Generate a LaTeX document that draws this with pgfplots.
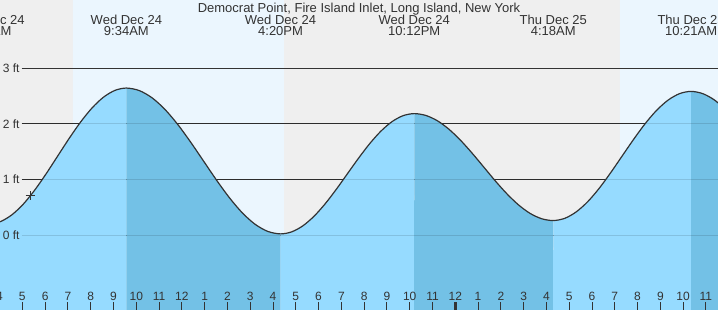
\documentclass[border=0pt]{standalone}
\usepackage{fontspec}
\setmainfont{Liberation Sans}
\usepackage{pgfplots}
\usepackage{pgfplotstable}
\pgfplotsset{compat=1.18}
\usepgfplotslibrary{fillbetween}
\definecolor{nightbg}{HTML}{EFEFEF}
\definecolor{daybg}{HTML}{EBF6FE}
\definecolor{rise}{HTML}{96DBFF}
\definecolor{fall}{HTML}{73C1E6}
\definecolor{ink}{HTML}{333333}
\newcommand\fa{\fontsize{12bp}{14bp}\selectfont}
\newcommand\fb{\fontsize{13bp}{15bp}\selectfont}

\pgfplotstableread{
t v
3.540 0.200
4.042 0.242
4.544 0.364
5.047 0.558
5.549 0.811
6.051 1.106
6.554 1.423
7.056 1.739
7.558 2.034
8.060 2.287
8.562 2.481
9.065 2.603
9.567 2.645
10.131 2.600
10.695 2.469
11.258 2.261
11.822 1.989
12.386 1.672
12.950 1.333
13.514 0.993
14.078 0.676
14.642 0.404
15.205 0.196
15.769 0.065
16.333 0.020
16.822 0.057
17.311 0.165
17.800 0.337
18.289 0.561
18.778 0.822
19.267 1.103
19.756 1.383
20.244 1.644
20.733 1.868
21.222 2.040
21.711 2.148
22.200 2.185
22.708 2.152
23.217 2.056
23.725 1.903
24.233 1.704
24.742 1.472
25.250 1.223
25.758 0.973
26.267 0.741
26.775 0.542
27.283 0.389
27.792 0.293
28.300 0.260
28.804 0.300
29.308 0.416
29.813 0.600
30.317 0.841
30.821 1.122
31.325 1.423
31.829 1.723
32.333 2.004
32.838 2.245
33.342 2.429
33.846 2.545
34.350 2.585
34.871 2.543
35.392 2.425
35.913 2.235
}\tide

\begin{document}
\begin{tikzpicture}
\begin{axis}[
  name=ax,
  set layers,
  axis on top,
  scale only axis, width=718bp, height=310bp,
  xmin=4.02, xmax=35.53, ymin=-1.35, ymax=4.23,
  axis line style={draw=none},
  xtick={5,...,35},
  xticklabels={5,6,7,8,9,10,11,12,1,2,3,4,5,6,7,8,9,10,11,12,1,2,3,4,5,6,7,8,9,10,11},
  xtick pos=bottom,
  tick align=inside,
  major tick length=8bp,
  xtick style={draw=ink, line width=0.9bp},
  xticklabel style={anchor=base, yshift=10bp, inner sep=0pt, font=\fa, text=ink},
  ytick={0,1,2,3},
  yticklabels={0 ft,1 ft,2 ft,3 ft},
  ytick pos=left,
  ytick style={draw=none},
  yticklabel style={anchor=west, xshift=2.7bp, inner sep=0pt, font=\fa, text=ink},
]
% night / day backgrounds
\addplot[on layer=axis background, draw=none, fill=nightbg] coordinates {(3.5,-1.5) (3.5,4.3) (36,4.3) (36,-1.5) (3.5,-1.5)};
\addplot[on layer=axis background, draw=none, fill=daybg] coordinates {(7.22,-1.5) (7.22,4.3) (16.48,4.3) (16.48,-1.5) (7.22,-1.5)};
\addplot[on layer=axis background, draw=none, fill=daybg] coordinates {(31.22,-1.5) (31.22,4.3) (36,4.3) (36,-1.5) (31.22,-1.5)};
% dark gridlines
\addplot[on layer=axis background, ink, line width=0.9bp] coordinates {(4.97,3) (36,3)};
\addplot[on layer=axis background, ink, line width=0.9bp] coordinates {(4.97,2) (36,2)};
\addplot[on layer=axis background, ink, line width=0.9bp] coordinates {(4.97,1) (36,1)};
\addplot[on layer=axis background, ink, line width=0.9bp] coordinates {(4.97,0) (36,0)};
% paths for the water
\addplot[draw=none, name path=bot] coordinates {(3.5,-1.5) (36,-1.5)};
\addplot[draw=none, name path=curve, smooth] table[x=t, y=v] {\tide};
\addplot[fill=rise, draw=none] fill between[of=curve and bot, soft clip={domain=3.54:9.567}];
\addplot[fill=fall, draw=none] fill between[of=curve and bot, soft clip={domain=9.567:16.333}];
\addplot[fill=rise, draw=none] fill between[of=curve and bot, soft clip={domain=16.333:22.2}];
\addplot[fill=fall, draw=none] fill between[of=curve and bot, soft clip={domain=22.2:28.3}];
\addplot[fill=rise, draw=none] fill between[of=curve and bot, soft clip={domain=28.3:34.35}];
\addplot[fill=fall, draw=none] fill between[of=curve and bot, soft clip={domain=34.35:35.913}];
% faint gridlines seen through the water
\addplot[black, opacity=0.12, line width=0.9bp] coordinates {(4.97,2) (36,2)};
\addplot[black, opacity=0.12, line width=0.9bp] coordinates {(4.97,1) (36,1)};
\addplot[black, opacity=0.12, line width=0.9bp] coordinates {(4.97,0) (36,0)};
% tide curve
\addplot[ink, line width=1.2bp, smooth] table[x=t, y=v] {\tide};
% current time marker
\addplot[only marks, mark=+, mark size=4.5bp, ink, mark options={line width=0.9bp}] coordinates {(5.34,0.71)};
% thick tick at midnight
\addplot[ink, line width=3bp] coordinates {(24,-1.4) (24,-1.206)};
% cut-off tick label at 4 AM
\node[anchor=base, font=\fa, text=ink] at (axis cs:4.0,-1.170) {4};
% title and tide extremes
\node[anchor=base, font=\fb, text=ink] at (axis cs:19.776,4.008) {Democrat Point, Fire Island Inlet, Long Island, New York};
\node[anchor=base, font=\fb, text=ink] at (axis cs:3.54,3.797) {Wed Dec 24};
\node[anchor=base, font=\fb, text=ink] at (axis cs:3.54,3.586) {3:32AM};
\node[anchor=base, font=\fb, text=ink] at (axis cs:9.567,3.797) {Wed Dec 24};
\node[anchor=base, font=\fb, text=ink] at (axis cs:9.567,3.586) {9:34AM};
\node[anchor=base, font=\fb, text=ink] at (axis cs:16.333,3.797) {Wed Dec 24};
\node[anchor=base, font=\fb, text=ink] at (axis cs:16.333,3.586) {4:20PM};
\node[anchor=base, font=\fb, text=ink] at (axis cs:22.2,3.797) {Wed Dec 24};
\node[anchor=base, font=\fb, text=ink] at (axis cs:22.2,3.586) {10:12PM};
\node[anchor=base, font=\fb, text=ink] at (axis cs:28.3,3.797) {Thu Dec 25};
\node[anchor=base, font=\fb, text=ink] at (axis cs:28.3,3.586) {4:18AM};
\node[anchor=base, font=\fb, text=ink] at (axis cs:34.35,3.797) {Thu Dec 25};
\node[anchor=base, font=\fb, text=ink] at (axis cs:34.35,3.586) {10:21AM};
\end{axis}
\pgfresetboundingbox
\path[use as bounding box] (ax.south west) rectangle (ax.north east);
\end{tikzpicture}
\end{document}
